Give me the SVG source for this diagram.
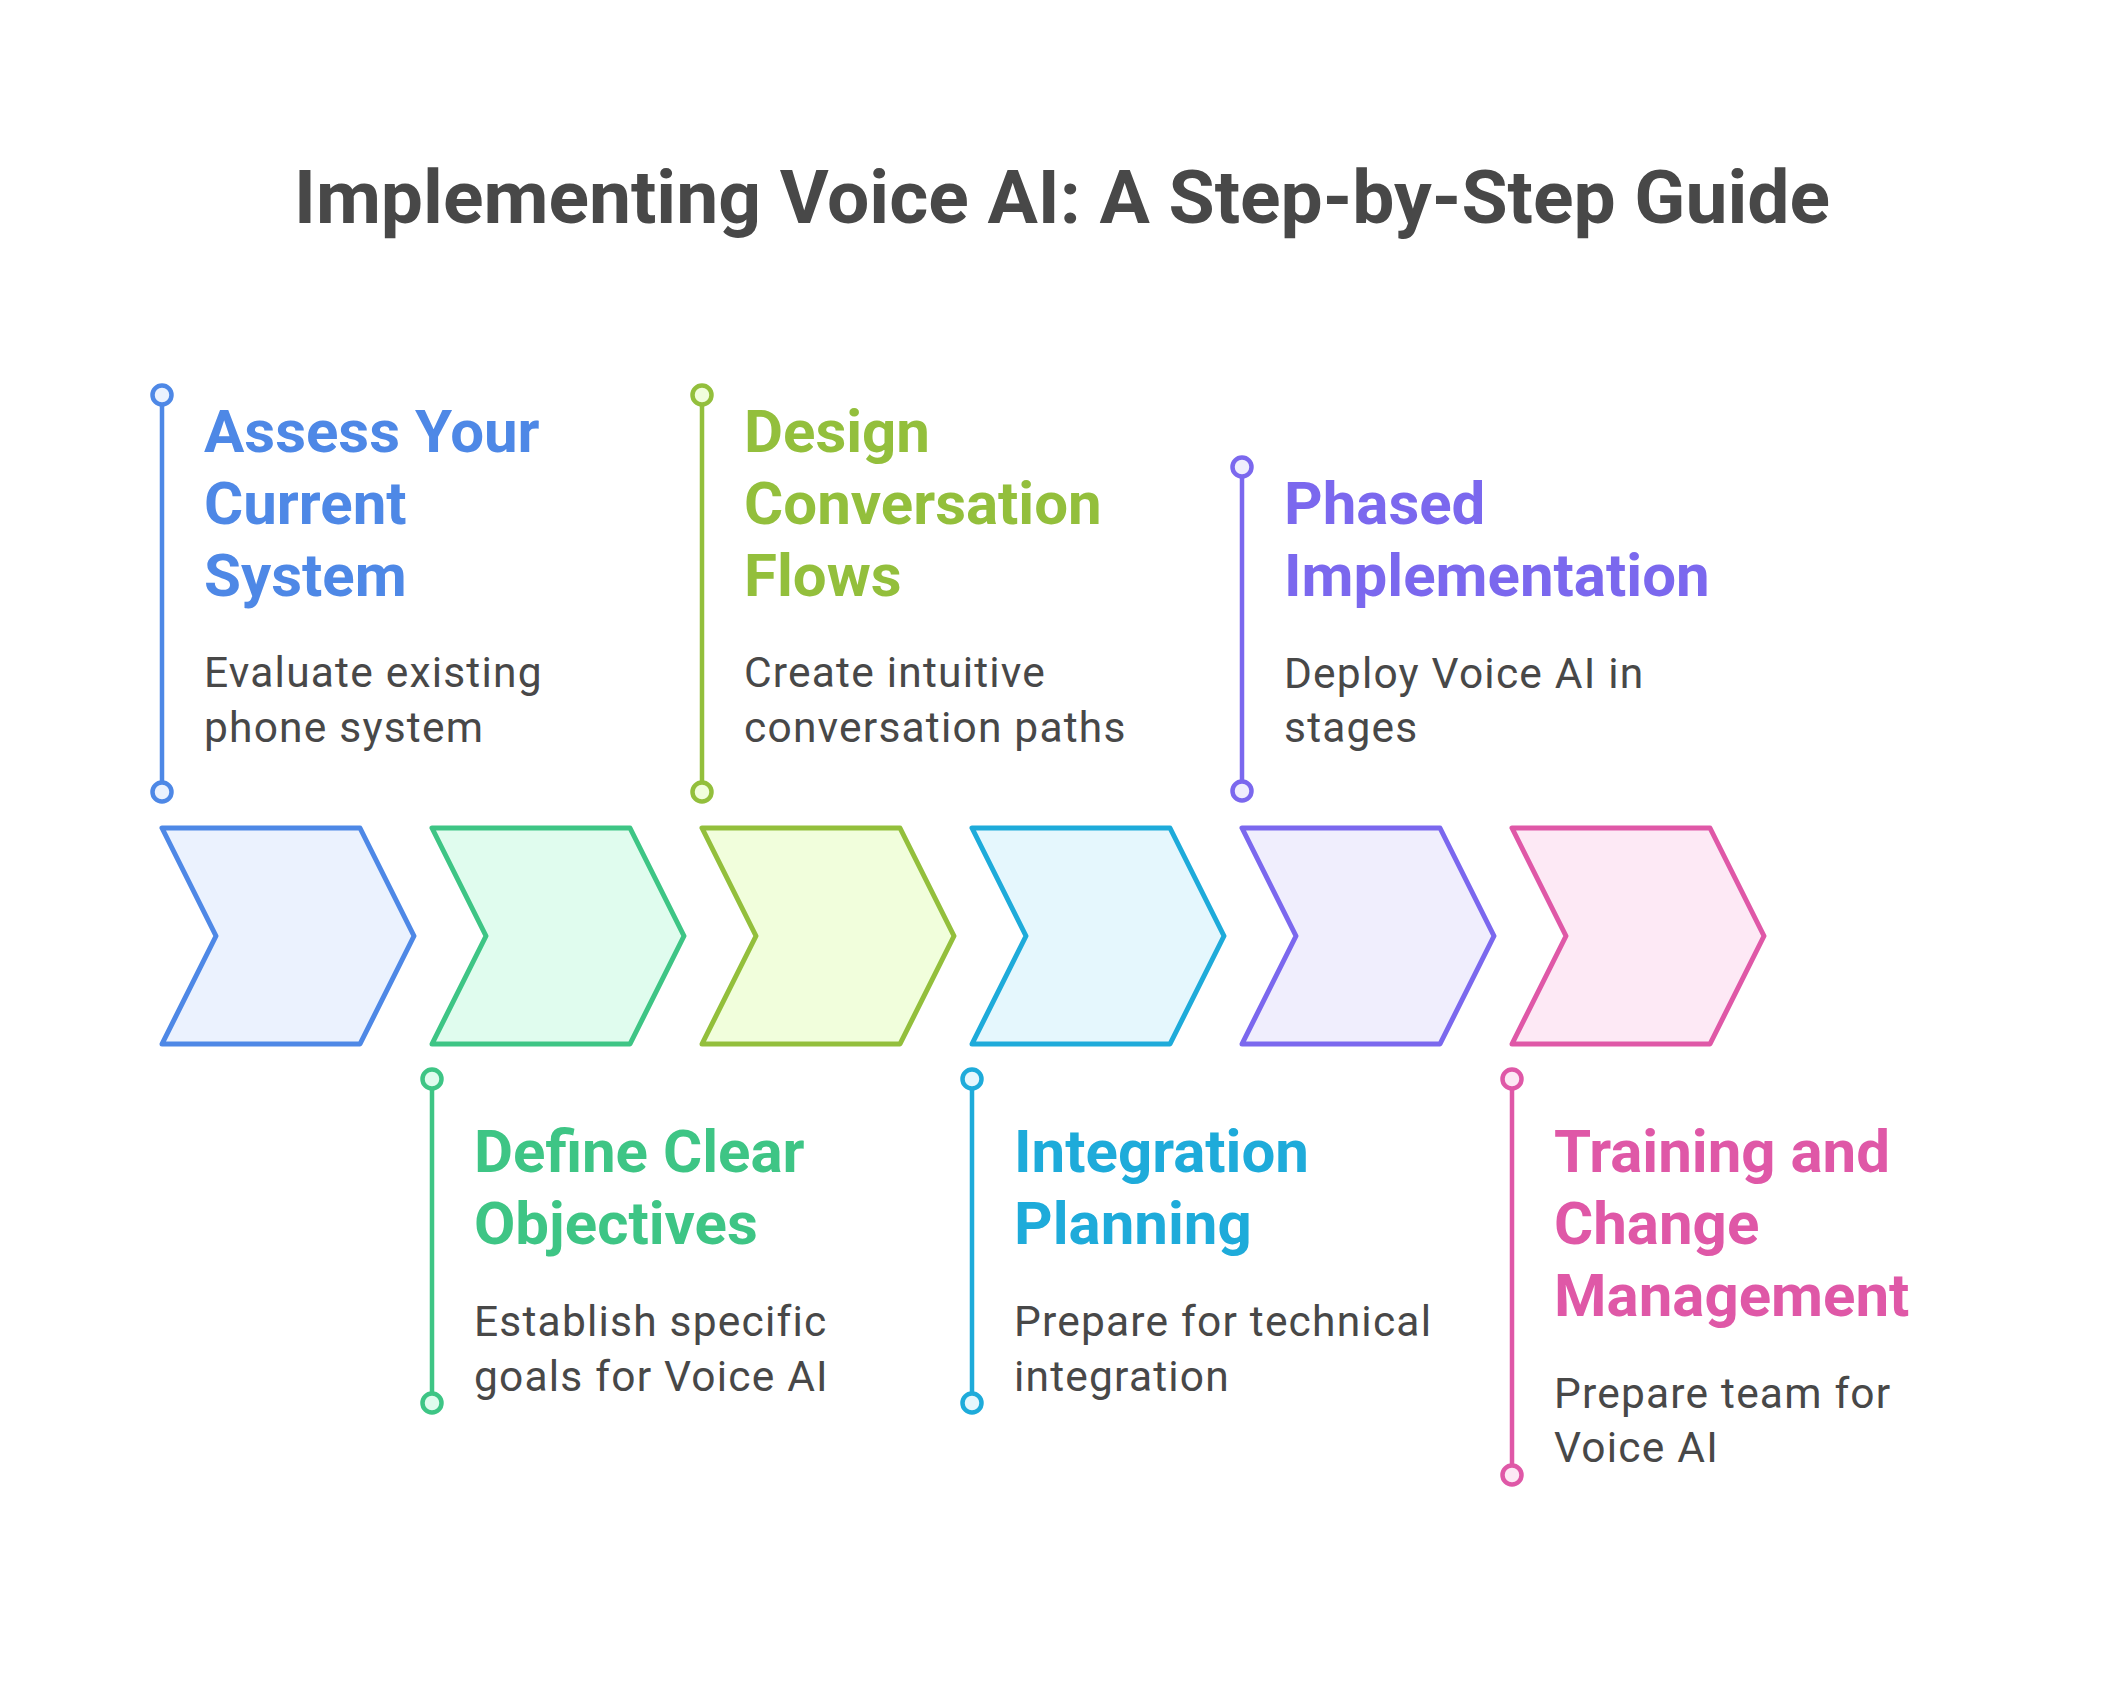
<svg xmlns="http://www.w3.org/2000/svg" width="2124" height="1692" viewBox="0 0 2124 1692">
<style>
.title{font-family:Roboto,"Liberation Sans",sans-serif;font-weight:700;font-size:75px;fill:#484848}
.h{font-family:Roboto,"Liberation Sans",sans-serif;font-weight:700;font-size:60px}
.d{font-family:Roboto,"Liberation Sans",sans-serif;font-weight:400;font-size:42.5px;letter-spacing:1.2px;fill:#484848}
.chev{stroke-width:5;stroke-linejoin:round}
.pin{stroke-width:4.5;fill:none}
.dot{stroke-width:4.5}
.blue{stroke:#4E88E6}.blueF{fill:#EBF2FE}.blueT{fill:#4E88E6}
.green{stroke:#3EC585}.greenF{fill:#E0FCEE}.greenT{fill:#3EC585}
.lime{stroke:#93BF3C}.limeF{fill:#F1FEDC}.limeT{fill:#93BF3C}
.cyan{stroke:#1EABDA}.cyanF{fill:#E5F7FD}.cyanT{fill:#1EABDA}
.purple{stroke:#7B68EE}.purpleF{fill:#F0EEFD}.purpleT{fill:#7B68EE}
.pink{stroke:#DF58A7}.pinkF{fill:#FDE9F5}.pinkT{fill:#DF58A7}
</style>
<rect width="2124" height="1692" fill="#ffffff"/>
<text class="title" x="1062" y="223" text-anchor="middle">Implementing Voice AI: A Step-by-Step Guide</text>

<g id="connectors">
  <line class="pin blue" x1="162" y1="395" x2="162" y2="792"/>
  <line class="pin green" x1="432" y1="1079" x2="432" y2="1403"/>
  <line class="pin lime" x1="702" y1="395" x2="702" y2="792"/>
  <line class="pin cyan" x1="972" y1="1079" x2="972" y2="1403"/>
  <line class="pin purple" x1="1242" y1="467" x2="1242" y2="791"/>
  <line class="pin pink" x1="1512" y1="1079" x2="1512" y2="1475"/>
</g>

<g id="step1">
  <polygon class="chev blue blueF" points="162,828 360,828 414,936 360,1044 162,1044 216,936"/>
  <circle class="dot blue blueF" cx="162" cy="395" r="9.5"/>
  <circle class="dot blue blueF" cx="162" cy="792" r="9.5"/>
  <text class="h blueT"><tspan x="204" y="452">Assess Your</tspan><tspan x="204" y="524">Current</tspan><tspan x="204" y="596">System</tspan></text>
  <text class="d"><tspan x="204" y="687">Evaluate existing</tspan><tspan x="204" y="742">phone system</tspan></text>
</g>

<g id="step2">
  <polygon class="chev green greenF" points="432,828 630,828 684,936 630,1044 432,1044 486,936"/>
  <circle class="dot green greenF" cx="432" cy="1079" r="9.5"/>
  <circle class="dot green greenF" cx="432" cy="1403" r="9.5"/>
  <text class="h greenT"><tspan x="474" y="1172">Define Clear</tspan><tspan x="474" y="1244">Objectives</tspan></text>
  <text class="d"><tspan x="474" y="1336">Establish specific</tspan><tspan x="474" y="1391">goals for Voice AI</tspan></text>
</g>

<g id="step3">
  <polygon class="chev lime limeF" points="702,828 900,828 954,936 900,1044 702,1044 756,936"/>
  <circle class="dot lime limeF" cx="702" cy="395" r="9.5"/>
  <circle class="dot lime limeF" cx="702" cy="792" r="9.5"/>
  <text class="h limeT"><tspan x="744" y="452">Design</tspan><tspan x="744" y="524">Conversation</tspan><tspan x="744" y="596">Flows</tspan></text>
  <text class="d"><tspan x="744" y="687">Create intuitive</tspan><tspan x="744" y="742">conversation paths</tspan></text>
</g>

<g id="step4">
  <polygon class="chev cyan cyanF" points="972,828 1170,828 1224,936 1170,1044 972,1044 1026,936"/>
  <circle class="dot cyan cyanF" cx="972" cy="1079" r="9.5"/>
  <circle class="dot cyan cyanF" cx="972" cy="1403" r="9.5"/>
  <text class="h cyanT"><tspan x="1014" y="1172">Integration</tspan><tspan x="1014" y="1244">Planning</tspan></text>
  <text class="d"><tspan x="1014" y="1336">Prepare for technical</tspan><tspan x="1014" y="1391">integration</tspan></text>
</g>

<g id="step5">
  <polygon class="chev purple purpleF" points="1242,828 1440,828 1494,936 1440,1044 1242,1044 1296,936"/>
  <circle class="dot purple purpleF" cx="1242" cy="467" r="9.5"/>
  <circle class="dot purple purpleF" cx="1242" cy="791" r="9.5"/>
  <text class="h purpleT"><tspan x="1284" y="524">Phased</tspan><tspan x="1284" y="596">Implementation</tspan></text>
  <text class="d"><tspan x="1284" y="688">Deploy Voice AI in</tspan><tspan x="1284" y="742">stages</tspan></text>
</g>

<g id="step6">
  <polygon class="chev pink pinkF" points="1512,828 1710,828 1764,936 1710,1044 1512,1044 1566,936"/>
  <circle class="dot pink pinkF" cx="1512" cy="1079" r="9.5"/>
  <circle class="dot pink pinkF" cx="1512" cy="1475" r="9.5"/>
  <text class="h pinkT"><tspan x="1554" y="1172">Training and</tspan><tspan x="1554" y="1244">Change</tspan><tspan x="1554" y="1316">Management</tspan></text>
  <text class="d"><tspan x="1554" y="1408">Prepare team for</tspan><tspan x="1554" y="1462">Voice AI</tspan></text>
</g>
</svg>
